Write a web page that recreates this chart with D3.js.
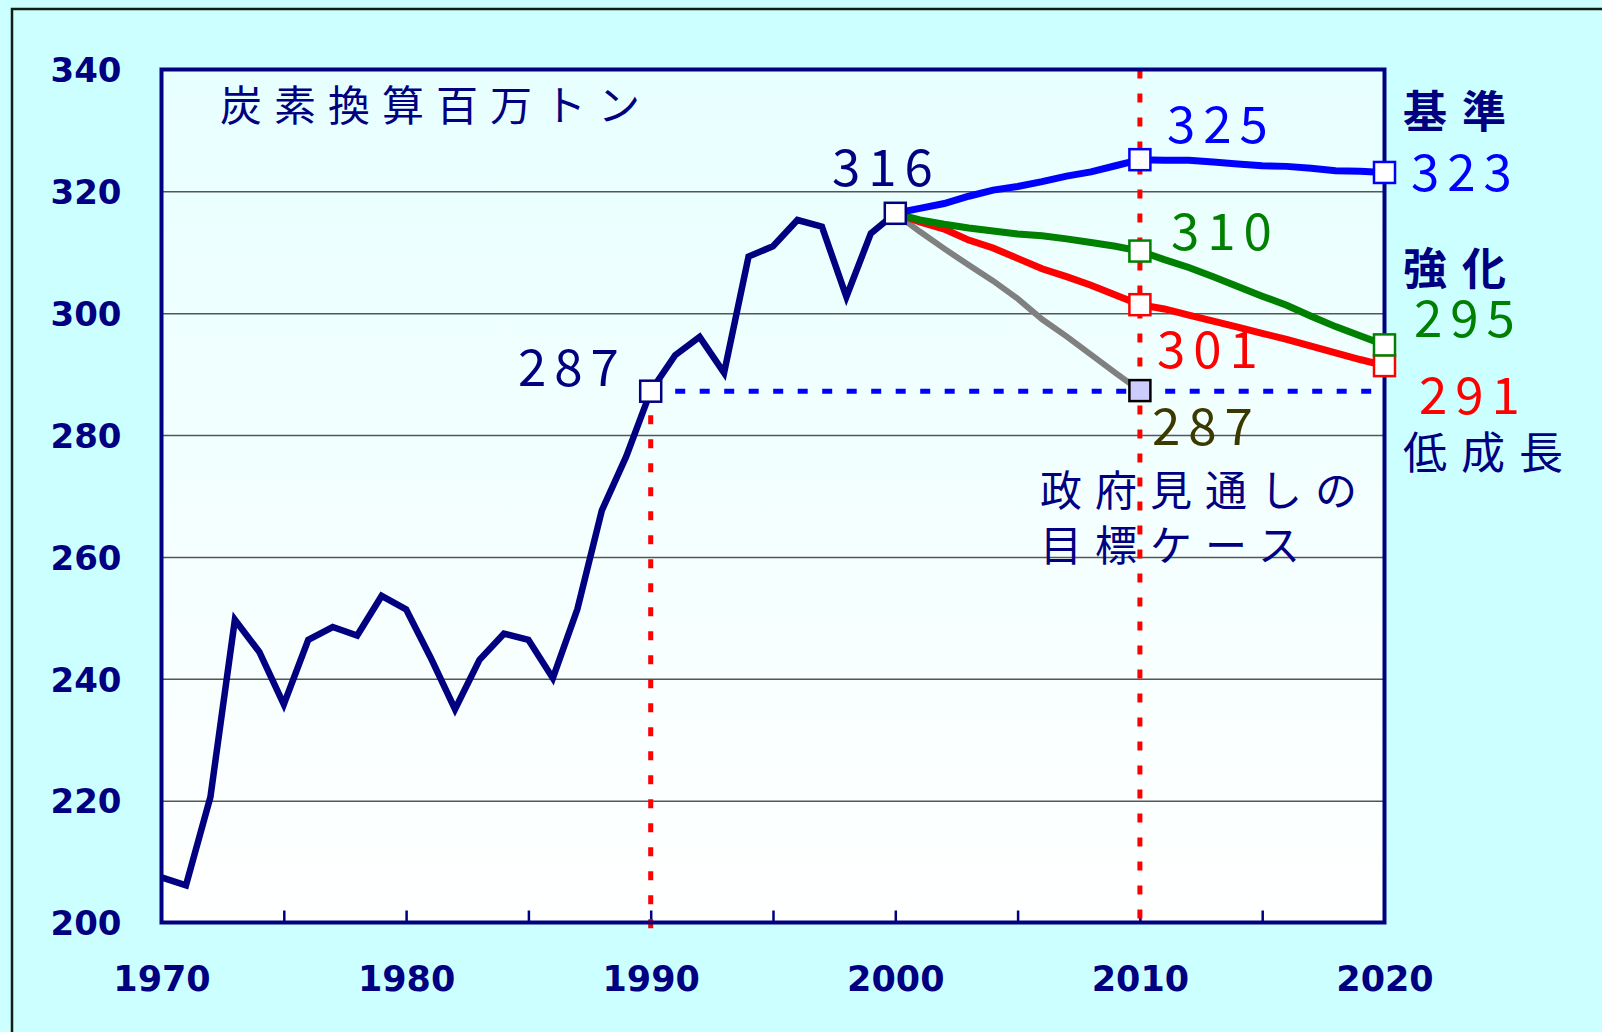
<!DOCTYPE html>
<html>
<head>
<meta charset="utf-8">
<script src="https://cdn.jsdelivr.net/npm/d3@7"></script>
<style>
  html, body { margin: 0; padding: 0; background: #ccffff; }
  svg { display: block; }
</style>
</head>
<body>
<div id="chart"></div>
<script>
/* DATA */
const histYears = [1970, 1971, 1972, 1973, 1974, 1975, 1976, 1977, 1978, 1979,
  1980, 1981, 1982, 1983, 1984, 1985, 1986, 1987, 1988, 1989,
  1990, 1991, 1992, 1993, 1994, 1995, 1996, 1997, 1998, 1999, 2000];
const histValues = [207.4, 206.1, 220.6, 249.7, 244.4, 235.8, 246.4, 248.5, 247.1, 253.6,
  251.4, 243.5, 235.0, 243.1, 247.4, 246.4, 240.1, 251.4, 267.6, 276.5,
  287.2, 293.1, 296.1, 290.2, 309.3, 311.0, 315.3, 314.2, 302.7, 313.1, 316.4];

const projYears = [2000, 2001, 2002, 2003, 2004, 2005, 2006, 2007, 2008, 2009, 2010,
  2011, 2012, 2013, 2014, 2015, 2016, 2017, 2018, 2019, 2020];
const baseValues = [316.4, 317.2, 318.0, 319.2, 320.2, 320.8, 321.6, 322.5, 323.2, 324.2, 325.2,
  325.1, 325.1, 324.8, 324.5, 324.2, 324.1, 323.8, 323.4, 323.3, 323.1];
const strongValues = [316.4, 315.3, 314.6, 314.0, 313.5, 313.0, 312.7, 312.2, 311.6, 311.0, 310.2,
  308.8, 307.5, 306.0, 304.4, 302.8, 301.3, 299.5, 297.8, 296.3, 294.8];
const lowValues = [316.4, 315.0, 313.8, 312.0, 310.7, 309.0, 307.3, 306.0, 304.6, 303.0, 301.4,
  300.7, 299.7, 298.7, 297.7, 296.7, 295.7, 294.6, 293.5, 292.4, 291.4];
const govYears = [2000, 2001, 2002, 2003, 2004, 2005, 2006, 2007, 2008, 2009, 2010];
const govValues = [316.4, 313.4, 310.6, 307.9, 305.3, 302.4, 299.0, 296.2, 293.2, 290.2, 287.3];

const yTicks = [200, 220, 240, 260, 280, 300, 320, 340];
const xTicks = [1970, 1980, 1990, 2000, 2010, 2020];
const xMinorTicks = [1975, 1980, 1985, 1990, 1995, 2000, 2005, 2010, 2015];

const unitLabel = "炭素換算百万トン";
const seriesNames = ["基準", "強化", "低成長"];
const govLabel = ["政府見通しの", "目標ケース"];

/* CONSTANTS */
const width = 1602,
  height = 1032,
  plot = { left: 161.5, right: 1384.5, top: 69.5, bottom: 922.5 },
  navy = "#000080",
  numFont = "'Noto Sans CJK JP', 'Noto Sans', sans-serif",
  jpFont = "'Noto Sans CJK JP', sans-serif",
  tickFont = "'DejaVu Sans', 'Liberation Sans', sans-serif";

const xScale = d3.scaleLinear().domain([1970, 2020]).range([plot.left, plot.right]);
const yScale = d3.scaleLinear().domain([200, 340]).range([plot.bottom, plot.top]);

const svg = d3.select("#chart")
  .append("svg")
  .attr("width", width)
  .attr("height", height);

// outer frame (runs off the right and bottom edges)
svg.append("rect")
  .attr("x", 12).attr("y", 9)
  .attr("width", width).attr("height", height)
  .attr("fill", "#ccffff")
  .attr("stroke", "#102010")
  .attr("stroke-width", 2.5);

// plot background
const grad = svg.append("defs").append("linearGradient")
  .attr("id", "bg").attr("x1", 0).attr("y1", 0).attr("x2", 0).attr("y2", 1);
grad.append("stop").attr("offset", "0%").attr("stop-color", "#e8ffff");
grad.append("stop").attr("offset", "100%").attr("stop-color", "#ffffff");

svg.append("rect")
  .attr("x", plot.left).attr("y", plot.top)
  .attr("width", plot.right - plot.left)
  .attr("height", plot.bottom - plot.top)
  .attr("fill", "url(#bg)");

/* GRIDLINES */
svg.append("g")
  .attr("class", "grid")
  .attr("transform", `translate(${plot.left},0)`)
  .call(d3.axisLeft(yScale)
    .tickValues(yTicks.filter(d => d > 200 && d < 340))
    .tickSize(-(plot.right - plot.left))
    .tickFormat(""))
  .call(g => g.select(".domain").remove())
  .call(g => g.selectAll("line").attr("stroke", "#555").attr("stroke-width", 1.5));

/* AXES */
svg.append("g")
  .attr("class", "y-axis")
  .attr("transform", `translate(${plot.left},0)`)
  .call(d3.axisLeft(yScale).tickValues(yTicks).tickSize(0).tickPadding(40))
  .call(g => g.select(".domain").remove())
  .call(g => g.selectAll("text")
    .attr("fill", navy)
    .attr("font-family", tickFont)
    .attr("font-weight", "bold")
    .attr("font-size", 34)
    .attr("dy", "0.36em"));

svg.append("g")
  .attr("class", "x-axis")
  .attr("transform", `translate(0,${plot.bottom})`)
  .call(d3.axisBottom(xScale).tickValues(xTicks).tickSize(0).tickPadding(44).tickFormat(d3.format("d")))
  .call(g => g.select(".domain").remove())
  .call(g => g.selectAll("text")
    .attr("fill", navy)
    .attr("font-family", tickFont)
    .attr("font-weight", "bold")
    .attr("font-size", 35));

// small inward ticks every 5 years
svg.append("g")
  .attr("class", "x-minor")
  .attr("transform", `translate(0,${plot.bottom})`)
  .call(d3.axisBottom(xScale).tickValues(xMinorTicks).tickSize(-12).tickFormat(""))
  .call(g => g.select(".domain").remove())
  .call(g => g.selectAll("line").attr("stroke", navy).attr("stroke-width", 2.5));

/* REFERENCE LINES */
svg.append("line")
  .attr("x1", xScale(1990)).attr("x2", xScale(2020))
  .attr("y1", yScale(287.2)).attr("y2", yScale(287.2))
  .attr("stroke", "#0000ff").attr("stroke-width", 5)
  .attr("stroke-dasharray", "10,14.5");

svg.append("line")
  .attr("x1", xScale(1990)).attr("x2", xScale(1990))
  .attr("y1", yScale(287.2)).attr("y2", plot.bottom + 8)
  .attr("stroke", "#ff0000").attr("stroke-width", 5)
  .attr("stroke-dasharray", "9,15");

svg.append("line")
  .attr("x1", xScale(2010)).attr("x2", xScale(2010))
  .attr("y1", plot.top).attr("y2", plot.bottom + 10)
  .attr("stroke", "#ff0000").attr("stroke-width", 5)
  .attr("stroke-dasharray", "9,15");

/* LINES */
const lineFunc = d3.line()
  .x(d => xScale(d[0]))
  .y(d => yScale(d[1]));

const series = [
  { years: govYears, values: govValues, color: "#808080", w: 6 },
  { years: projYears, values: lowValues, color: "#ff0000", w: 7 },
  { years: projYears, values: strongValues, color: "#008000", w: 7 },
  { years: projYears, values: baseValues, color: "#0000ff", w: 7 },
  { years: histYears, values: histValues, color: navy, w: 6.5 },
];

svg.selectAll("path.trend")
  .data(series)
  .join("path")
  .attr("class", "trend")
  .attr("fill", "none")
  .attr("stroke", d => d.color)
  .attr("stroke-width", d => d.w)
  .attr("stroke-linejoin", "miter")
  .attr("d", d => lineFunc(d3.zip(d.years, d.values)));

// plot frame
svg.append("rect")
  .attr("x", plot.left).attr("y", plot.top)
  .attr("width", plot.right - plot.left)
  .attr("height", plot.bottom - plot.top)
  .attr("fill", "none")
  .attr("stroke", navy)
  .attr("stroke-width", 4);

/* MARKERS */
const valAt = (years, values, yr) => values[years.indexOf(yr)];
const markers = [
  { yr: 1990, v: valAt(histYears, histValues, 1990), stroke: navy, fill: "#fff" },
  { yr: 2000, v: valAt(histYears, histValues, 2000), stroke: navy, fill: "#fff" },
  { yr: 2010, v: valAt(projYears, baseValues, 2010), stroke: "#0000ff", fill: "#fff" },
  { yr: 2020, v: valAt(projYears, baseValues, 2020), stroke: "#0000ff", fill: "#fff" },
  { yr: 2010, v: valAt(projYears, strongValues, 2010), stroke: "#008000", fill: "#fff" },
  { yr: 2010, v: valAt(projYears, lowValues, 2010), stroke: "#ff0000", fill: "#fff" },
  { yr: 2020, v: valAt(projYears, lowValues, 2020), stroke: "#ff0000", fill: "#fff" },
  { yr: 2020, v: valAt(projYears, strongValues, 2020), stroke: "#008000", fill: "#fff" },
  { yr: 2010, v: valAt(govYears, govValues, 2010), stroke: "#000", fill: "#ccccff" },
];
const ms = 21;

svg.selectAll("rect.marker")
  .data(markers)
  .join("rect")
  .attr("class", "marker")
  .attr("x", d => xScale(d.yr) - ms / 2)
  .attr("y", d => yScale(d.v) - ms / 2)
  .attr("width", ms)
  .attr("height", ms)
  .attr("fill", d => d.fill)
  .attr("stroke", d => d.stroke)
  .attr("stroke-width", 2.5);

/* LABELS */
const numLabels = [
  { text: Math.round(valAt(histYears, histValues, 1990)), x: 518, y: 386, color: navy },
  { text: Math.round(valAt(histYears, histValues, 2000)), x: 832, y: 186, color: navy },
  { text: Math.round(valAt(projYears, baseValues, 2010)), x: 1167, y: 143, color: "#0000ff" },
  { text: Math.round(valAt(projYears, baseValues, 2020)), x: 1411, y: 191, color: "#0000ff" },
  { text: Math.round(valAt(projYears, strongValues, 2010)), x: 1171, y: 250, color: "#008000" },
  { text: Math.round(valAt(projYears, strongValues, 2020)), x: 1414, y: 337, color: "#008000" },
  { text: Math.round(valAt(projYears, lowValues, 2010)), x: 1157, y: 368, color: "#ff0000" },
  { text: Math.round(valAt(projYears, lowValues, 2020)), x: 1419, y: 414, color: "#ff0000" },
  { text: Math.round(valAt(govYears, govValues, 2010)), x: 1152, y: 445, color: "#3a3a00" },
];

svg.selectAll("text.num")
  .data(numLabels)
  .join("text")
  .attr("class", "num")
  .attr("x", d => d.x)
  .attr("y", d => d.y)
  .attr("fill", d => d.color)
  .attr("font-family", numFont)
  .attr("font-size", 51)
  .attr("letter-spacing", 8)
  .text(d => d.text);

const jpLabels = [
  { text: unitLabel, x: 220, y: 121, bold: false, size: 42, ls: 12 },
  { text: govLabel[0], x: 1040, y: 506, bold: false, size: 42, ls: 13 },
  { text: govLabel[1], x: 1040, y: 561, bold: false, size: 42, ls: 13 },
  { text: seriesNames[0], x: 1403, y: 128, bold: true, size: 44, ls: 15 },
  { text: seriesNames[1], x: 1403, y: 285, bold: true, size: 44, ls: 15 },
  { text: seriesNames[2], x: 1403, y: 469, bold: false, size: 44, ls: 14 },
];

svg.selectAll("text.jp")
  .data(jpLabels)
  .join("text")
  .attr("class", "jp")
  .attr("x", d => d.x)
  .attr("y", d => d.y)
  .attr("fill", navy)
  .attr("font-family", jpFont)
  .attr("font-weight", d => d.bold ? "bold" : "normal")
  .attr("font-size", d => d.size)
  .attr("letter-spacing", d => d.ls)
  .text(d => d.text);
</script>
</body>
</html>
